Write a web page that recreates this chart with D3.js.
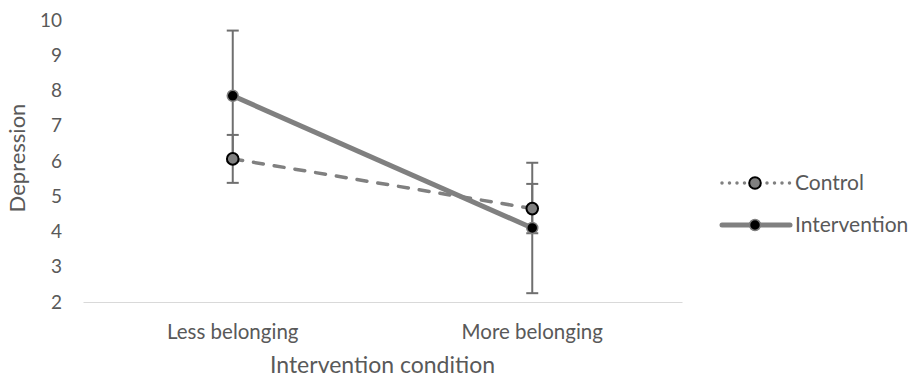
<!DOCTYPE html>
<html>
<head>
<meta charset="utf-8">
<script src="https://cdn.jsdelivr.net/npm/d3@7"></script>
<style>
  body { margin: 0; background: #fff; }
  text { font-family: Lato, "Open Sans", sans-serif; fill: #595959; }
</style>
</head>
<body>
<div id="chart"></div>
<script>
// chart data
var categories = ["Less belonging", "More belonging"];
var seriesNames = ["Control", "Intervention"];
var controlValues = [6.06, 4.65];
var controlErrors = [0.68, 0.7];
var interventionValues = [7.85, 4.1];
var interventionErrors = [1.85, 1.85];
var yTicks = [2, 3, 4, 5, 6, 7, 8, 9, 10];

var width = 912, height = 380;
var margin = { top: 20, left: 83, bottom: 78, right: 230 };
var plotW = width - margin.left - margin.right;
var plotH = height - margin.top - margin.bottom;

var svg = d3.select("#chart").append("svg")
    .attr("width", width)
    .attr("height", height);

var g = svg.append("g")
    .attr("transform", "translate(" + margin.left + "," + margin.top + ")");

var xScale = d3.scaleBand()
    .domain(categories)
    .range([0, plotW]);

var yScale = d3.scaleLinear()
    .domain([2, 10])
    .range([plotH, 0]);

// y axis labels (no line)
var yAxis = g.append("g")
    .call(d3.axisLeft(yScale).tickValues(yTicks).tickSize(0).tickPadding(21).tickFormat(d3.format("d")));
yAxis.select(".domain").remove();
yAxis.selectAll("text").style("font-size", "19px").attr("fill", "#595959");

// x axis
var xAxis = g.append("g")
    .attr("transform", "translate(0," + plotH + ")")
    .call(d3.axisBottom(xScale).tickSize(0).tickPadding(22));
xAxis.select(".domain").attr("stroke", "#d9d9d9").attr("stroke-width", 1.2);
xAxis.selectAll("text").style("font-size", "20.5px").attr("fill", "#595959");

// axis titles
svg.append("text")
    .attr("x", margin.left + plotW / 2)
    .attr("y", 373)
    .attr("text-anchor", "middle")
    .style("font-size", "23px")
    .text("Intervention condition");

svg.append("text")
    .attr("transform", "translate(25,158) rotate(-90)")
    .attr("text-anchor", "middle")
    .style("font-size", "22px")
    .text("Depression");

function cx(i) { return xScale(categories[i]) + xScale.bandwidth() / 2; }

var series = [
    { name: seriesNames[0], values: controlValues, errors: controlErrors },
    { name: seriesNames[1], values: interventionValues, errors: interventionErrors }
];

// error bars
series.forEach(function (s) {
    s.values.forEach(function (v, i) {
        var x = cx(i);
        var y1 = yScale(v + s.errors[i]);
        var y2 = yScale(v - s.errors[i]);
        g.append("line").attr("x1", x).attr("x2", x).attr("y1", y1).attr("y2", y2)
            .attr("stroke", "#6f6f6f").attr("stroke-width", 2);
        [y1, y2].forEach(function (yy) {
            g.append("line").attr("x1", x - 6).attr("x2", x + 6).attr("y1", yy).attr("y2", yy)
                .attr("stroke", "#6f6f6f").attr("stroke-width", 2);
        });
    });
});

var line = d3.line()
    .x(function (d, i) { return cx(i); })
    .y(function (d) { return yScale(d); });

// control line
g.append("path")
    .datum(controlValues)
    .attr("d", line)
    .attr("fill", "none")
    .attr("stroke", "#808080")
    .attr("stroke-width", 3.5)
    .attr("stroke-linecap", "round")
    .attr("stroke-dasharray", "10,11");

// intervention line
g.append("path")
    .datum(interventionValues)
    .attr("d", line)
    .attr("fill", "none")
    .attr("stroke", "#808080")
    .attr("stroke-width", 5);

// markers
g.selectAll(".ctrl").data(controlValues).enter().append("circle")
    .attr("cx", function (d, i) { return cx(i); })
    .attr("cy", function (d) { return yScale(d); })
    .attr("r", 5.8)
    .attr("fill", "#808080")
    .attr("stroke", "#000")
    .attr("stroke-width", 2);

g.selectAll(".intv").data(interventionValues).enter().append("circle")
    .attr("cx", function (d, i) { return cx(i); })
    .attr("cy", function (d) { return yScale(d); })
    .attr("r", 5.5)
    .attr("fill", "#000")
    .attr("stroke", "#808080")
    .attr("stroke-width", 1.5);

// legend
var legend = svg.append("g").attr("transform", "translate(722,183)");
// control entry
legend.append("line").attr("x1", 0).attr("x2", 68).attr("y1", 0).attr("y2", 0)
    .attr("stroke", "#808080").attr("stroke-width", 3.5)
    .attr("stroke-linecap", "round").attr("stroke-dasharray", "0,7.5");
legend.append("circle").attr("cx", 33).attr("cy", 0).attr("r", 6.5)
    .attr("fill", "#fff").attr("stroke", "none");
legend.append("circle").attr("cx", 33).attr("cy", 0).attr("r", 5.8)
    .attr("fill", "#808080").attr("stroke", "#000").attr("stroke-width", 2);
legend.append("text").attr("x", 73).attr("y", 7).style("font-size", "21px").text(seriesNames[0]);
// intervention entry
legend.append("line").attr("x1", 0).attr("x2", 68).attr("y1", 42).attr("y2", 42)
    .attr("stroke", "#808080").attr("stroke-width", 5).attr("stroke-linecap", "round");
legend.append("circle").attr("cx", 33).attr("cy", 42).attr("r", 5.5)
    .attr("fill", "#000").attr("stroke", "#808080").attr("stroke-width", 1.5);
legend.append("text").attr("x", 73).attr("y", 49).style("font-size", "21px").text(seriesNames[1]);
</script>
</body>
</html>
